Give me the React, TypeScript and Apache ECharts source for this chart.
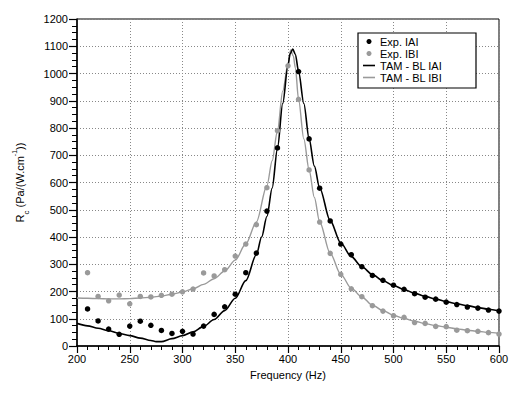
import React, { useEffect, useRef } from "react";
import * as echarts from "echarts";

const expAFreq = [210, 220, 230, 240, 250, 260, 270, 280, 290, 300, 310, 320, 330, 340, 350, 360, 370, 380, 390, 410, 420, 430, 440, 450, 460, 470, 480, 490, 500, 510, 520, 530, 540, 550, 560, 570, 580, 590, 600];
const expAVal = [136, 92, 62, 43, 73, 91, 76, 57, 46, 54, 44, 73, 116, 144, 190, 269, 341, 495, 727, 1007, 760, 579, 459, 374, 335, 291, 259, 241, 223, 208, 192, 179, 172, 161, 152, 143, 139, 132, 128];

const expBFreq = [210, 220, 230, 240, 250, 260, 270, 280, 290, 300, 310, 320, 330, 340, 350, 360, 370, 380, 390, 400, 410, 420, 430, 440, 450, 460, 470, 480, 490, 500, 510, 520, 530, 540, 550, 560, 570, 580, 590, 600];
const expBVal = [269, 182, 166, 187, 155, 182, 180, 186, 190, 199, 209, 268, 257, 280, 330, 374, 445, 581, 790, 1028, 905, 646, 455, 340, 263, 210, 181, 148, 128, 111, 105, 86, 83, 72, 71, 58, 56, 54, 49, 44];

const modelAFreq = [200, 210, 220, 230, 240, 250, 260, 270, 275, 280, 290, 300, 310, 320, 330, 340, 350, 360, 370, 375, 380, 385, 390, 395, 400, 402, 404.5, 407, 410, 415, 420, 425, 430, 440, 450, 460, 470, 480, 490, 500, 510, 520, 530, 540, 550, 560, 570, 580, 590, 600];
const modelAVal = [83, 74, 65, 56, 46, 38, 29, 20, 16, 16, 27, 38, 52, 72, 97, 130, 175, 240, 335, 400, 475, 580, 725, 890, 1030, 1072, 1090, 1070, 1008, 890, 760, 660, 580, 460, 378, 328, 291, 262, 240, 222, 207, 194, 182, 172, 163, 155, 148, 141, 135, 129];

const modelBFreq = [200, 210, 220, 230, 240, 250, 260, 270, 280, 290, 300, 310, 320, 330, 340, 350, 360, 370, 380, 385, 390, 395, 400, 402.5, 405, 407, 410, 415, 420, 425, 430, 440, 450, 460, 470, 480, 490, 500, 510, 520, 530, 540, 550, 560, 570, 580, 590, 600];
const modelBVal = [176, 175, 174, 173, 173, 174, 176, 179, 183, 190, 198, 210, 226, 247, 275, 315, 375, 455, 588, 680, 790, 935, 1035, 1086, 1065, 1020, 905, 760, 646, 545, 455, 340, 263, 212, 180, 150, 130, 113, 101, 91, 82, 75, 69, 63, 58, 54, 50, 46];

const xTicks = { min: 200, max: 600, step: 50 };
const yTicks = { min: 0, max: 1200, step: 100 };

const legendNames = ["Exp. IAI", "Exp. IBI", "TAM - BL IAI", "TAM - BL IBI"];

const zip = (xs: number[], ys: number[]) => xs.map((x, i) => [x, ys[i]]);

const FONT = "'Liberation Sans', Arial, sans-serif";
const GREY = "#9a9a9a";
const LINE_ICON = "path://M0,0H12V1.6H0Z";

export default function App() {
  const ref = useRef<HTMLDivElement>(null);
  useEffect(() => {
    const chart = echarts.init(ref.current!, null, { renderer: "svg" });
    chart.setOption({
      animation: false,
      textStyle: { fontFamily: FONT },
      grid: {
        left: 77,
        top: 19,
        right: 15,
        bottom: 50,
        show: true,
        borderColor: "#000",
        borderWidth: 1,
      },
      xAxis: {
        type: "value",
        min: xTicks.min,
        max: xTicks.max,
        interval: xTicks.step,
        name: "Frequency (Hz)",
        nameLocation: "middle",
        nameGap: 23,
        nameTextStyle: { color: "#000", fontSize: 11, fontFamily: FONT },
        axisLine: { lineStyle: { color: "#000", width: 1.5 } },
        axisTick: { inside: false, length: 7, lineStyle: { color: "#000", width: 1.2 } },
        minorTick: { show: true, splitNumber: 5, length: 4, lineStyle: { color: "#000", width: 1 } },
        axisLabel: { color: "#000", fontSize: 11, margin: 7, fontFamily: FONT, formatter: (v: number) => String(v) },
        splitLine: { show: true, lineStyle: { color: "#888", type: [1, 2], width: 1 } },
      },
      yAxis: {
        type: "value",
        min: yTicks.min,
        max: yTicks.max,
        interval: yTicks.step,
        name: "{r|R}{s|c}{r| (Pa/(W.cm}{p|-1}{r|))}",
        nameLocation: "middle",
        nameGap: 50,
        nameTextStyle: {
          color: "#000",
          fontSize: 11,
          fontFamily: FONT,
          rich: {
            r: { fontSize: 11, fontFamily: FONT, color: "#000", lineHeight: 14, verticalAlign: "middle" },
            s: { fontSize: 8, fontFamily: FONT, color: "#000", lineHeight: 14, verticalAlign: "bottom", padding: [0, 0, -3, 0] },
            p: { fontSize: 7, fontFamily: FONT, color: "#000", lineHeight: 14, verticalAlign: "top", padding: [-2, 0, 0, 0] },
          },
        },
        axisLine: { show: true, lineStyle: { color: "#000", width: 1.5 } },
        axisTick: { show: true, inside: false, length: 8, lineStyle: { color: "#000", width: 1.2 } },
        minorTick: { show: true, splitNumber: 4, length: 5, lineStyle: { color: "#000", width: 1 } },
        axisLabel: { color: "#000", fontSize: 11, margin: 9, fontFamily: FONT, formatter: (v: number) => String(v) },
        splitLine: { show: true, lineStyle: { color: "#888", type: [1, 2], width: 1 } },
      },
      legend: {
        show: true,
        orient: "vertical",
        left: 363,
        top: 36,
        padding: 0,
        itemWidth: 12,
        itemHeight: 5,
        itemGap: 1,
        z: 5,
        symbolKeepAspect: true,
        data: [
          { name: legendNames[0], icon: "circle" },
          { name: legendNames[1], icon: "circle" },
          { name: legendNames[2], icon: LINE_ICON, itemStyle: { color: "#000" } },
          { name: legendNames[3], icon: LINE_ICON, itemStyle: { color: GREY } },
        ],
        textStyle: { color: "#000", fontSize: 11, fontFamily: FONT },
      },
      graphic: [
        {
          type: "rect",
          z: 4,
          shape: { x: 358, y: 33, width: 118, height: 55 },
          style: { fill: "#fff", stroke: "#000", lineWidth: 1.2 },
        },
      ],
      series: [
        {
          name: legendNames[2],
          type: "line",
          data: zip(modelAFreq, modelAVal),
          symbol: "none",
          showSymbol: false,
          smooth: 0.3,
          smoothMonotone: "x",
          lineStyle: { color: "#000", width: 1.6 },
          itemStyle: { color: "#000" },
          z: 3,
        },
        {
          name: legendNames[3],
          type: "line",
          data: zip(modelBFreq, modelBVal),
          symbol: "none",
          showSymbol: false,
          smooth: 0.3,
          smoothMonotone: "x",
          lineStyle: { color: GREY, width: 1.4 },
          itemStyle: { color: GREY },
          z: 2,
        },
        {
          name: legendNames[0],
          type: "scatter",
          data: zip(expAFreq, expAVal),
          symbol: "circle",
          symbolSize: 5.5,
          itemStyle: { color: "#000", opacity: 1 },
          z: 4,
        },
        {
          name: legendNames[1],
          type: "scatter",
          data: zip(expBFreq, expBVal),
          symbol: "circle",
          symbolSize: 5.5,
          itemStyle: { color: GREY, opacity: 1 },
          z: 4,
        },
      ],
    });
    return () => chart.dispose();
  }, []);
  return (
    <div
      ref={ref}
      style={{ position: "absolute", left: 0, top: 0, width: 514, height: 396 }}
    />
  );
}
